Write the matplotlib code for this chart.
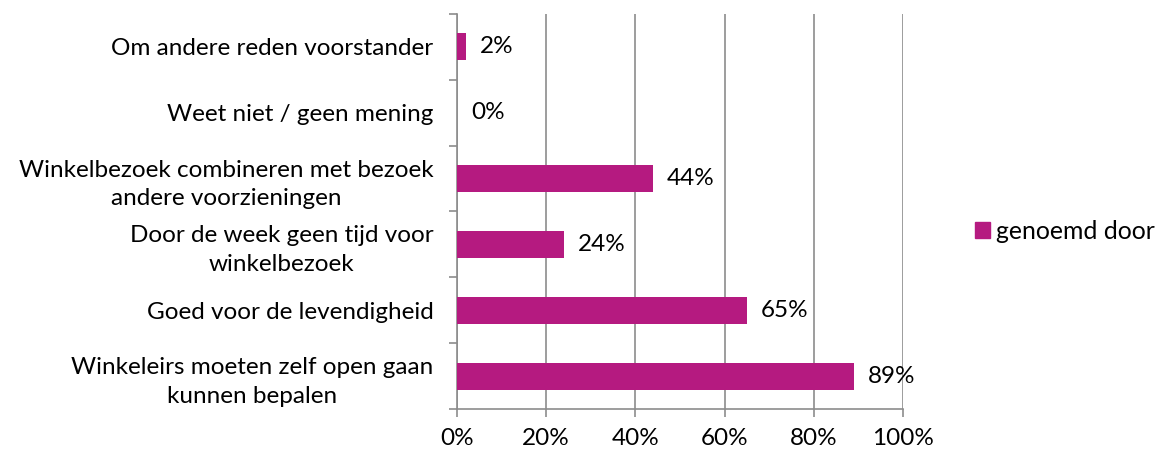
import matplotlib
matplotlib.use("Agg")
import matplotlib.pyplot as plt
from matplotlib.patches import Patch

categories = [
    "Winkeleirs moeten zelf open gaan\nkunnen bepalen",
    "Goed voor de levendigheid",
    "Door de week geen tijd voor\nwinkelbezoek",
    "Winkelbezoek combineren met bezoek\nandere voorzieningen",
    "Weet niet / geen mening",
    "Om andere reden voorstander",
]
values = [89, 65, 24, 44, 0, 2]
series_name = "genoemd door"
xticks = [0, 20, 40, 60, 80, 100]

plt.rcParams['font.family'] = ['Lato', 'DejaVu Sans']
bar_color = '#B51A80'
grid_color = '#8C8C8C'
fs = 17.5

fig = plt.figure(figsize=(11.57, 4.53), dpi=100)
ax = fig.add_axes([457/1157, 1-409/453, (903-457)/1157, (409-14)/453])

y = list(range(len(categories)))
ax.barh(y, values, height=0.41, color=bar_color, zorder=3)
ax.set_xlim(0, 100)
ax.set_ylim(-0.5, len(categories)-0.5)

ax.set_xticks(xticks)
ax.set_xticklabels([f"{v}%" for v in xticks], fontsize=fs)
ax.xaxis.grid(True, color=grid_color, linewidth=1.2, zorder=0)
ax.set_axisbelow(True)

ax.set_yticks(y)
ax.set_yticklabels(categories, fontsize=fs, multialignment='center', linespacing=1.45)
ax.set_yticks([i - 0.5 for i in range(len(categories)+1)], minor=True)
ax.tick_params(axis='y', which='minor', length=6, color=grid_color, width=1.2)
ax.tick_params(axis='y', which='major', length=0, pad=17)
ax.tick_params(axis='x', length=6, color=grid_color, width=1.2, pad=8)

for s in ['top', 'right']:
    ax.spines[s].set_visible(False)
for s in ['left', 'bottom']:
    ax.spines[s].set_color(grid_color)
    ax.spines[s].set_linewidth(1.2)

for yi, v in zip(y, values):
    ax.annotate(f"{v}%", (v, yi), xytext=(10, 0), textcoords='offset points',
                va='center', ha='left', fontsize=fs)

fig.legend(handles=[Patch(color=bar_color, label=series_name)],
           loc='center left', bbox_to_anchor=(975/1157, 1-231/453),
           frameon=False, fontsize=17.8, handlelength=0.6, handleheight=0.6,
           handletextpad=0.25, borderpad=0, borderaxespad=0)

fig.savefig("out.png", dpi=100)
